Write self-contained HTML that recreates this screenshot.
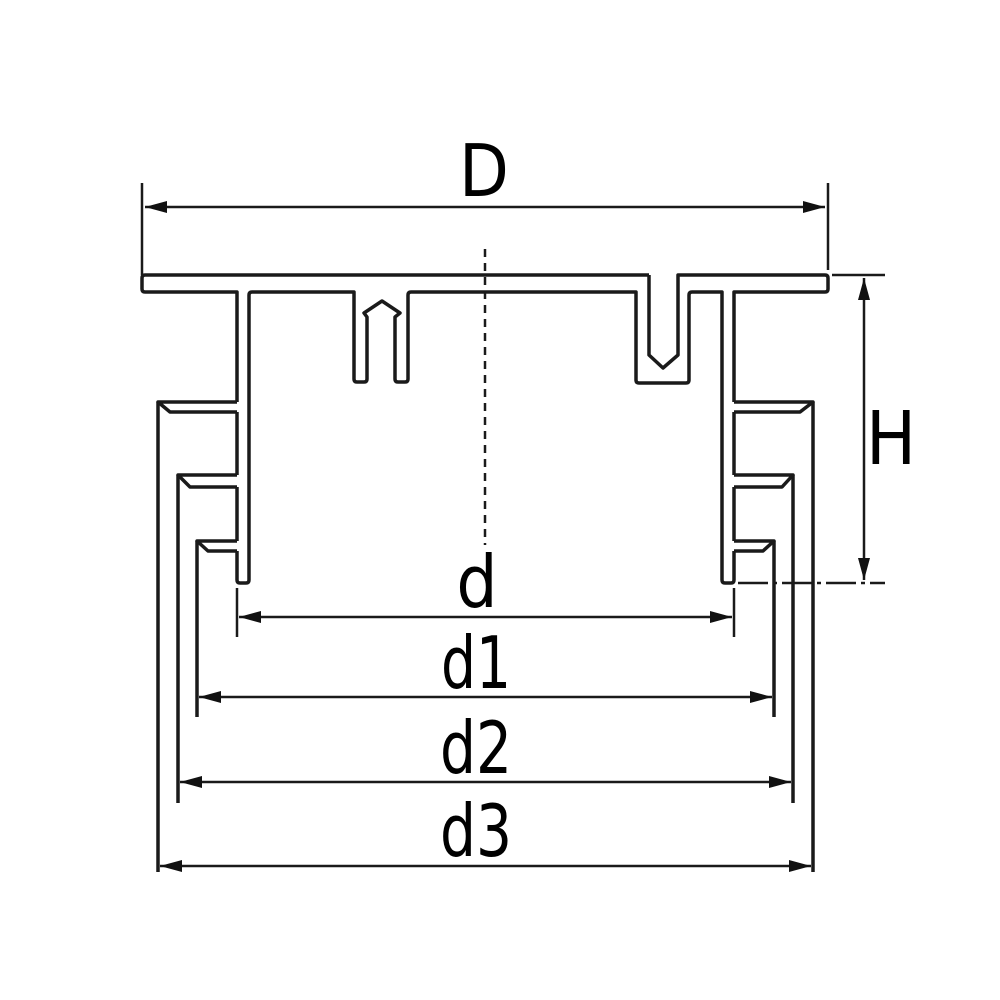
<!DOCTYPE html>
<html><head><style>html,body{margin:0;padding:0;background:#fff}svg{display:block}</style></head>
<body>
<svg width="1000" height="1000" viewBox="0 0 1000 1000" xmlns="http://www.w3.org/2000/svg">
<defs>
<marker id="a" viewBox="0 0 22 12" refX="22" refY="6" markerWidth="22" markerHeight="12" markerUnits="userSpaceOnUse" orient="auto-start-reverse"><path d="M0,0 L22,6 L0,12 Z" fill="#111"/></marker>
</defs>
<g fill="none" stroke="#1a1a1a" stroke-width="3.5" stroke-linejoin="round">
<path d="M649,275 L145,275 Q142,275 142,278 L142,289 Q142,292 145,292 L237,292 L237,402"/>
<path d="M237,412 L237,475"/>
<path d="M237,487 L237,541"/>
<path d="M237,551 L237,580 Q237,583 240,583 L246,583 Q249,583 249,580 L249,295 Q249,292 252,292 L354,292 L354,379 Q354,382 357,382 L364,382 Q367,382 367,379 L367,317 L364,313 L382,301 L400,313 L395,317 L395,379 Q395,382 398,382 L405,382 Q408,382 408,379 L408,295 Q408,292 411,292 L636,292 L636,380 Q636,383 639,383 L686,383 Q689,383 689,380 L689,295 Q689,292 692,292 L722,292 L722,580 Q722,583 725,583 L731,583 Q734,583 734,580 L734,551"/>
<path d="M734,541 L734,487"/>
<path d="M734,475 L734,412"/>
<path d="M734,402 L734,292 L825,292 Q828,292 828,289 L828,278 Q828,275 825,275 L678,275 L678,355 L663,368 L649,355 L649,275"/>
<path d="M237,402 L158,402 L170,412 L237,412"/>
<path d="M158,402 L158,872"/>
<path d="M237,475 L178,475 L190,487 L237,487"/>
<path d="M178,475 L178,803"/>
<path d="M237,541 L197,541 L208,551 L237,551"/>
<path d="M197,541 L197,717"/>
<path d="M734,402 L813,402 L800,412 L734,412"/>
<path d="M813,402 L813,872"/>
<path d="M734,475 L793,475 L782,487 L734,487"/>
<path d="M793,475 L793,803"/>
<path d="M734,541 L774,541 L763,551 L734,551"/>
<path d="M774,541 L774,717"/>
</g>
<g stroke="#1a1a1a" stroke-width="2.5" fill="none">
<line x1="142" y1="183" x2="142" y2="275"/>
<line x1="828" y1="183" x2="828" y2="270"/>
<line x1="145" y1="207" x2="825" y2="207" marker-start="url(#a)" marker-end="url(#a)"/>
<line x1="485" y1="249" x2="485" y2="545" stroke-dasharray="8,6"/>
<line x1="832" y1="275" x2="885" y2="275"/>
<line x1="738" y1="583" x2="885" y2="583" stroke-dasharray="30,5,4,5"/>
<line x1="864" y1="278" x2="864" y2="580" marker-start="url(#a)" marker-end="url(#a)"/>
<line x1="237" y1="588" x2="237" y2="637"/>
<line x1="734" y1="588" x2="734" y2="637"/>
<line x1="774" y1="583" x2="774" y2="600" stroke-dasharray="6,4"/>
<line x1="793" y1="583" x2="793" y2="600" stroke-dasharray="6,4"/>
<line x1="813" y1="583" x2="813" y2="600" stroke-dasharray="6,4"/>
<line x1="239" y1="617" x2="732" y2="617" marker-start="url(#a)" marker-end="url(#a)"/>
<line x1="199" y1="697" x2="772" y2="697" marker-start="url(#a)" marker-end="url(#a)"/>
<line x1="180" y1="782" x2="791" y2="782" marker-start="url(#a)" marker-end="url(#a)"/>
<line x1="160" y1="866" x2="811" y2="866" marker-start="url(#a)" marker-end="url(#a)"/>
</g>
<g font-family="'DejaVu Sans Condensed','DejaVu Sans','Liberation Sans',sans-serif" font-size="72" fill="#000" text-anchor="middle">
<text x="484" y="196">D</text>
<text x="891" y="464" font-size="74">H</text>
<text x="477" y="607">d</text>
<text x="476" y="688" textLength="70" lengthAdjust="spacingAndGlyphs">d1</text>
<text x="476" y="773" textLength="72" lengthAdjust="spacingAndGlyphs">d2</text>
<text x="476" y="856" textLength="72" lengthAdjust="spacingAndGlyphs">d3</text>
</g>
</svg>
</body></html>
